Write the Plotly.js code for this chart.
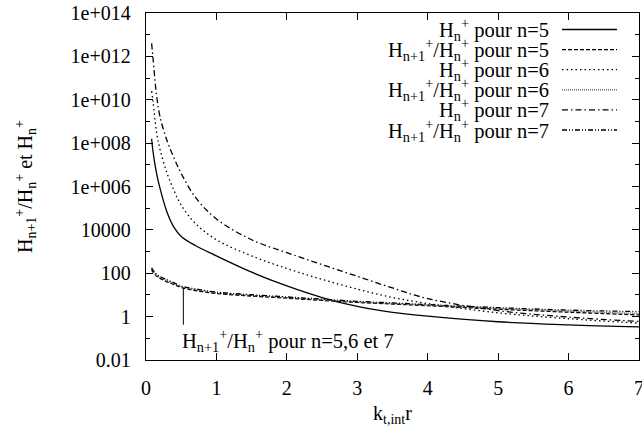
<!DOCTYPE html>
<html>
<head>
<meta charset="utf-8">
<script src="https://cdn.plot.ly/plotly-3.0.1.min.js"></script>
<style>html,body{margin:0;padding:0;background:#fff;}#chart{width:642px;height:427px;}</style>
</head>
<body>
<div id="chart"></div>
<script>
// x values (k_t,int r)
const xs = [0.08, 0.1, 0.15, 0.2, 0.3, 0.4, 0.5, 0.7, 1.0, 1.5, 2.0, 2.5, 3.0, 3.5, 4.0, 5.0, 6.0, 7.0];
// H_n^+ for n=5,6,7
const H5 = [1.6e8, 4.0e7, 4.0e6, 8.0e5, 6.3e4, 1.26e4, 5.0e3, 1.9e3, 630, 112, 26, 7.6, 2.95, 1.58, 1.05, 0.58, 0.42, 0.34];
const H6 = [2.5e10, 8.0e9, 3.2e8, 5.0e7, 4.0e6, 6.3e5, 1.4e5, 2.0e4, 3.5e3, 630, 166, 52, 18.6, 7.6, 4.0, 1.5, 0.8, 0.5];
const H7 = [4.0e12, 8.0e11, 1.6e10, 1.6e9, 1.26e8, 2.0e7, 4.0e6, 3.2e5, 3.2e4, 3.5e3, 890, 250, 72, 21, 6.8, 1.9, 0.95, 0.6];
// H_{n+1}^+/H_n^+ for n=5,6,7
const R5 = [150, 112, 75, 58, 40, 30, 22, 16, 11.7, 8.9, 7.1, 5.6, 4.5, 3.8, 3.2, 2.2, 1.6, 1.2];
const R6 = [165, 125, 82, 64, 45, 33, 24, 17.8, 12.6, 9.6, 7.6, 6.0, 4.8, 4.0, 3.4, 2.4, 1.8, 1.4];
const R7 = [180, 140, 90, 71, 50, 36, 26, 19, 13.5, 10.2, 8.1, 6.4, 5.1, 4.3, 3.6, 2.6, 2.0, 1.7];
// pointer line for the annotation
const ptrX = [0.53, 0.53];
const ptrY = [21, 0.42];

const yTickVals = [0.01, 1, 100, 1e4, 1e6, 1e8, 1e10, 1e12, 1e14];
const yTickText = ['0.01', '1', '100', '10000', '1e+006', '1e+008', '1e+010', '1e+012', '1e+014'];
const yMinorVals = [0.1, 10, 1e3, 1e5, 1e7, 1e9, 1e11, 1e13];
const xTickVals = [0, 1, 2, 3, 4, 5, 6, 7];

const legendLabels = [
  'H<sub>n</sub><sup>+</sup> pour n=5',
  'H<sub>n+1</sub><sup>+</sup>/H<sub>n</sub><sup>+</sup> pour n=5',
  'H<sub>n</sub><sup>+</sup> pour n=6',
  'H<sub>n+1</sub><sup>+</sup>/H<sub>n</sub><sup>+</sup> pour n=6',
  'H<sub>n</sub><sup>+</sup> pour n=7',
  'H<sub>n+1</sub><sup>+</sup>/H<sub>n</sub><sup>+</sup> pour n=7'
];
const seriesY = [H5, R5, H6, R6, H7, R7];
const styles = [
  {color: '#000', dash: 'solid'},
  {color: '#000', dash: '4px,2px'},
  {color: '#000', dash: '1.5px,3px'},
  {color: '#555', dash: '1px,1px'},
  {color: '#000', dash: '6px,3px,1.5px,3px'},
  {color: '#000', dash: '5px,2px,1px,2px,1px,2px'}
];

const FONT = "'Liberation Serif', 'Times New Roman', serif";

const traces = seriesY.map((ys, i) => ({
  x: xs, y: ys, type: 'scatter', mode: 'lines', showlegend: false,
  line: {color: styles[i].color, dash: styles[i].dash, width: 1.3, shape: 'spline', smoothing: 1},
  hoverinfo: 'skip'
}));
traces.push({x: ptrX, y: ptrY, type: 'scatter', mode: 'lines', showlegend: false,
  line: {color: '#000', width: 1}, hoverinfo: 'skip'});

// manual gnuplot-style legend (text right-aligned, sample on the right)
const L = 146, R = 639, T = 13, B = 360;
const pw = R - L, ph = B - T;
const annotations = [];
const shapes = [];
legendLabels.forEach((lab, i) => {
  const yc = 29.5 + 20.1 * i;
  const yp = (B - yc) / ph;
  annotations.push({xref: 'paper', yref: 'paper', x: (550 - L) / pw, y: yp, xanchor: 'right', yanchor: 'middle',
    align: 'right', width: 260, borderpad: 0,
    text: lab, showarrow: false, font: {family: FONT, size: 20.5, color: '#000'}});
  shapes.push({type: 'line', xref: 'paper', yref: 'paper', x0: (562 - L) / pw, x1: (617 - L) / pw, y0: yp, y1: yp,
    line: {color: styles[i].color, dash: styles[i].dash, width: 1.3}});
});
annotations.push({xref: 'paper', yref: 'paper', x: (181 - L) / pw, y: (B - 340) / ph, xanchor: 'left', yanchor: 'middle',
  align: 'left', width: 300, borderpad: 0,
  text: 'H<sub>n+1</sub><sup>+</sup>/H<sub>n</sub><sup>+</sup> pour n=5,6 et 7', showarrow: false,
  font: {family: FONT, size: 20.5, color: '#000'}});

const layout = {
  width: 642, height: 427,
  margin: {l: L, r: 642 - R, t: T, b: 427 - B},
  paper_bgcolor: '#fff', plot_bgcolor: '#fff',
  font: {family: FONT, size: 20, color: '#000'},
  showlegend: false,
  xaxis: {
    range: [0, 7], tickvals: xTickVals, ticktext: xTickVals.map(String),
    ticks: 'inside', ticklen: 7, tickwidth: 1, tickcolor: '#000',
    showline: true, linecolor: '#000', linewidth: 1.3, mirror: 'ticks',
    showgrid: false, zeroline: false, ticklabelstandoff: 10, ticklabeloverflow: 'allow',
    tickfont: {family: FONT, size: 20},
    title: {text: 'k<sub>t,int</sub>r', font: {family: FONT, size: 20}, standoff: 10}
  },
  yaxis: {
    type: 'log', range: [-2, 14], tickvals: yTickVals, ticktext: yTickText,
    ticks: 'inside', ticklen: 7, tickwidth: 1, tickcolor: '#000',
    minor: {tickmode: 'array', tickvals: yMinorVals, ticks: 'inside', ticklen: 4, tickcolor: '#000', showgrid: false},
    showline: true, linecolor: '#000', linewidth: 1.3, mirror: 'ticks',
    showgrid: false, zeroline: false, ticklabelstandoff: 10,
    tickfont: {family: FONT, size: 20},
    title: {text: 'H<sub>n+1</sub><sup>+</sup>/H<sub>n</sub><sup>+</sup> et H<sub>n</sub><sup>+</sup>', font: {family: FONT, size: 20}, standoff: 32}
  },
  annotations: annotations,
  shapes: shapes
};

Plotly.newPlot('chart', traces, layout, {staticPlot: true, displayModeBar: false});
</script>
</body>
</html>
